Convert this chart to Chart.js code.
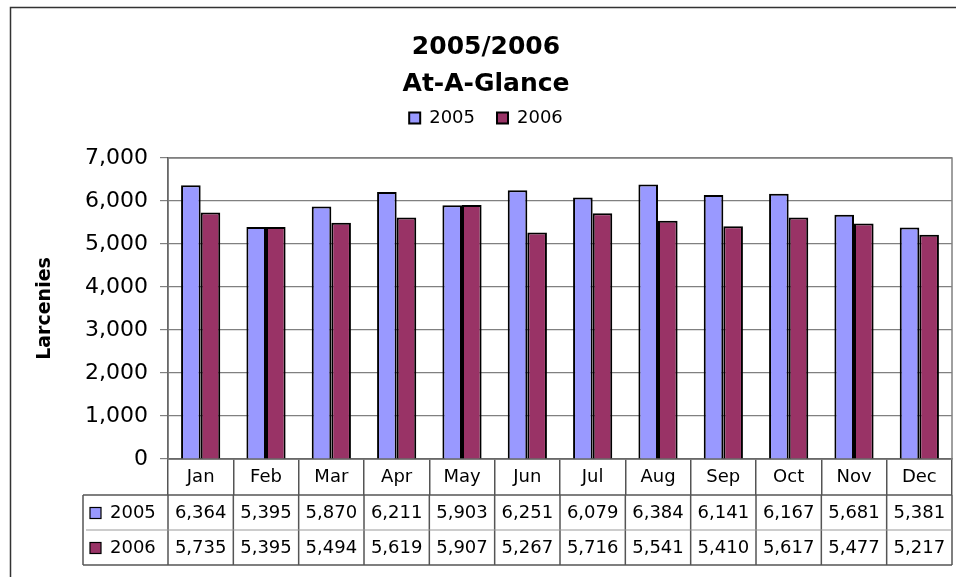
<!DOCTYPE html>
<html>
<head>
<meta charset="utf-8">
<script src="https://cdn.jsdelivr.net/npm/chart.js@4"></script>
<style>
  body { margin: 0; background: #fff; }
  #wrap { width: 956px; height: 577px; position: relative; }
</style>
</head>
<body>
<div id="wrap"><canvas id="chart"></canvas></div>
<script>
const months = ['Jan', 'Feb', 'Mar', 'Apr', 'May', 'Jun', 'Jul', 'Aug', 'Sep', 'Oct', 'Nov', 'Dec']
const larcenies2005 = [6364, 5395, 5870, 6211, 5903, 6251, 6079, 6384, 6141, 6167, 5681, 5381]
const larcenies2006 = [5735, 5395, 5494, 5619, 5907, 5267, 5716, 5541, 5410, 5617, 5477, 5217]
const yTicks = [0, 1000, 2000, 3000, 4000, 5000, 6000, 7000]

const font = '"DejaVu Sans", Verdana, sans-serif'
const fmt = v => v.toLocaleString('en-US')

Chart.defaults.font.family = font
Chart.defaults.color = '#000'

// frame around the whole chart + plot area border
const framePlugin = {
  id: 'frame',
  beforeDatasetsDraw(chart) {
    const {ctx, chartArea: a} = chart
    ctx.save()
    ctx.strokeStyle = '#808080'
    ctx.lineWidth = 1.5
    ctx.strokeRect(a.left, a.top, a.right - a.left, a.bottom - a.top)
    ctx.restore()
  },
  afterDraw(chart) {
    const ctx = chart.ctx
    ctx.save()
    ctx.strokeStyle = '#333'
    ctx.lineWidth = 1.5
    ctx.strokeRect(10.5, 7.5, chart.width + 10, chart.height + 10)
    ctx.restore()
  }
}

// data table under the x axis, one row per dataset
const tablePlugin = {
  id: 'dataTable',
  afterDraw(chart) {
    const {ctx, chartArea: a} = chart
    const xs = chart.scales.x
    const headerH = 36
    const rowH = 35
    const top = a.bottom + headerH
    const legendLeft = 83
    const n = chart.data.labels.length
    const step = xs.getPixelForValue(1) - xs.getPixelForValue(0)

    ctx.save()
    ctx.font = '18px ' + font
    ctx.textBaseline = 'middle'

    chart.data.datasets.forEach((ds, i) => {
      const cy = top + i * rowH + rowH / 2
      // legend key
      ctx.fillStyle = ds.backgroundColor
      ctx.fillRect(90, cy - 5, 11, 11)
      ctx.strokeStyle = '#000'
      ctx.lineWidth = 1.2
      ctx.strokeRect(90, cy - 5, 11, 11)
      ctx.fillStyle = '#000'
      ctx.textAlign = 'left'
      ctx.fillText(ds.label, 110, cy + 1)
      // values
      ctx.textAlign = 'center'
      ds.data.forEach((v, j) => {
        ctx.fillText(fmt(v), xs.getPixelForValue(j), cy + 1)
      })
    })

    const bottom = top + rowH * chart.data.datasets.length
    ctx.lineWidth = 1.5
    ctx.strokeStyle = '#555'
    ctx.beginPath()
    ctx.moveTo(legendLeft, top); ctx.lineTo(a.right, top)
    ctx.moveTo(legendLeft, bottom); ctx.lineTo(a.right, bottom)
    ctx.moveTo(legendLeft, top); ctx.lineTo(legendLeft, bottom)
    for (let j = 0; j <= n; j++) {
      const x = xs.getPixelForValue(0) - step / 2 + j * step
      ctx.moveTo(x, top); ctx.lineTo(x, bottom)
    }
    ctx.stroke()

    ctx.strokeStyle = '#999'
    ctx.lineWidth = 1
    ctx.beginPath()
    for (let i = 1; i < chart.data.datasets.length; i++) {
      ctx.moveTo(legendLeft + 3, top + i * rowH); ctx.lineTo(a.right, top + i * rowH)
    }
    ctx.stroke()
    ctx.restore()
  }
}

new Chart(document.getElementById('chart'), {
  type: 'bar',
  data: {
    labels: months,
    datasets: [
      {label: '2005', data: larcenies2005, backgroundColor: '#9999ff', borderColor: '#000', borderWidth: 2, borderSkipped: 'bottom'},
      {label: '2006', data: larcenies2006, backgroundColor: '#993366', borderColor: '#000', borderWidth: 2, borderSkipped: 'bottom'}
    ]
  },
  options: {
    responsive: true,
    maintainAspectRatio: false,
    animation: false,
    layout: {padding: {left: 20, right: 4, top: 21, bottom: 82}},
    datasets: {bar: {categoryPercentage: 0.6, barPercentage: 1}},
    plugins: {
      title: {
        display: true,
        text: ['2005/2006', 'At-A-Glance'],
        color: '#000',
        font: {size: 25, weight: 'bold', lineHeight: 1.48},
        padding: {top: 8, bottom: -16}
      },
      // empty subtitle used as a spacer between legend and plot
      subtitle: {
        display: true,
        text: ' ',
        weight: 500,
        font: {size: 1, lineHeight: 1},
        padding: {top: 20, bottom: 0}
      },
      legend: {
        labels: {boxWidth: 11, boxHeight: 11, color: '#000', font: {size: 18}, padding: 22}
      },
      tooltip: {enabled: false}
    },
    scales: {
      x: {
        grid: {display: true, drawOnChartArea: false, drawTicks: true, tickLength: 36, color: '#555', lineWidth: 1.5, offset: true},
        border: {color: '#222', width: 1.5},
        ticks: {font: {size: 18}, color: '#000', padding: -28, maxRotation: 0},
        afterFit(scale) { scale.height = 36 }
      },
      y: {
        min: 0,
        max: 7000,
        afterBuildTicks(scale) { scale.ticks = yTicks.map(v => ({value: v})) },
        grid: {color: '#808080', lineWidth: 1.2, tickLength: 8},
        border: {color: '#222', width: 1.5},
        ticks: {font: {size: 22}, color: '#000', padding: 12, callback: v => fmt(v)},
        title: {display: true, text: 'Larcenies', color: '#000', font: {size: 19, weight: 'bold'}, padding: {top: 14, bottom: 0}},
        afterFit(scale) { scale.width = 148 }
      }
    }
  },
  plugins: [framePlugin, tablePlugin]
})
</script>
</body>
</html>
